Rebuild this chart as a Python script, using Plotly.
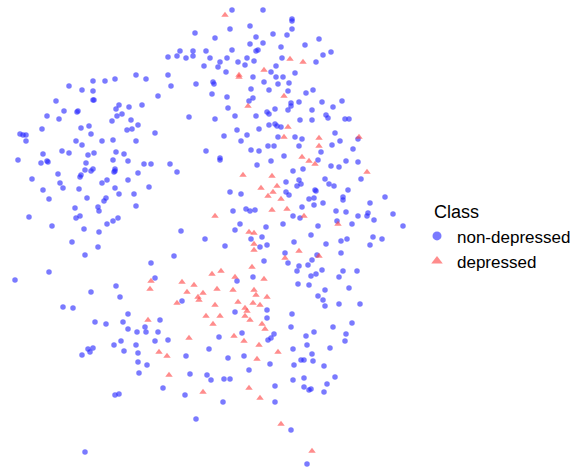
import plotly.graph_objects as go

# 2-D embedding coordinates of the samples (dim1 left->right, dim2 top->bottom)
non_depressed_dim1 = [
    136, 93, 105, 115, 69, 82, 93, 56, 93, 94, 119, 116, 129, 64, 77, 78, 47, 117, 122, 59, 112, 131, 42, 81, 89, 127,
    132, 138, 20, 23, 26, 91, 26, 76, 82, 102, 113, 136, 43, 62, 69, 88, 94, 116, 124,
    18, 41, 47, 48, 86, 113, 128, 32, 58, 81, 80, 85, 91, 93, 115, 115, 114, 138, 128, 43, 60, 63, 79, 102, 107, 115,
    119, 134, 49, 87, 106, 104, 136, 75, 98, 99, 29, 76, 80, 118, 113, 107, 52, 84, 99, 72, 98, 85, 49, 15, 116, 91,
    120, 63, 73, 128,
    95, 106, 123, 128, 137, 88, 93, 90, 82, 114, 121, 136, 124, 138, 138, 139, 115, 119, 85,
    232, 263, 250, 230, 195, 215, 256, 273, 250, 263, 180, 193, 206, 232, 256, 258, 168, 177, 186, 193, 210, 220, 227,
    238, 247, 254, 245, 204, 218, 226, 276, 271, 253, 276, 146, 168, 213, 214, 196, 264, 278, 171, 251, 269, 212, 158,
    227, 253, 249, 142, 228, 275, 189, 215, 235, 256, 267, 269, 269, 275, 277, 155, 237, 259, 224, 247, 278, 241, 268,
    274, 206, 251, 259, 220,
    292, 292, 292, 287, 281, 305, 319, 323, 331, 282, 316, 295, 283, 289, 288, 306, 313, 291, 291, 299, 322, 342, 288,
    312, 333, 326, 328, 300, 312, 345, 349, 281, 335, 295, 302, 358, 299, 332, 340, 353, 321, 284,
    144, 151, 170, 220, 177, 257, 271, 149, 230, 241, 233, 246, 250, 255, 240, 235, 266, 181, 251, 262, 205, 260, 267,
    225, 174, 264, 151, 155, 253, 237, 182, 235, 267, 267,
    318, 346, 358, 331, 339, 293, 303, 325, 361, 286, 299, 301, 297, 329, 334, 315, 316, 348, 286, 289, 309, 314, 343,
    343, 385, 323, 314, 370, 302, 336, 346, 368, 393, 293, 300, 358, 367, 374, 337, 283, 318, 352, 403, 311, 373, 382,
    294, 326, 341, 347, 370, 285, 317, 341, 288, 312, 299, 308, 297, 322, 343, 357, 311, 316, 339, 298, 309, 325, 349,
    318, 323, 325, 339, 360, 292,
    160, 145, 146, 158, 155, 168, 219, 242, 274, 271, 268, 209, 186, 228, 244, 270, 147, 249, 190, 207, 211, 224, 230,
    163, 275, 185, 223, 275, 196,
    291, 314, 306, 333, 352, 346, 345, 293, 307, 330, 312, 301, 304, 313, 294, 324, 293, 304, 335, 304, 309, 311, 327,
    324, 291, 307,
]
non_depressed_dim2 = [
    75, 81, 81, 79, 86, 90, 91, 101, 100, 100, 105, 109, 107, 111, 112, 111, 116, 116, 114, 119, 121, 120, 129, 128,
    126, 130, 129, 125, 134, 135, 135, 134, 141, 141, 145, 141, 140, 141, 154, 151, 153, 155, 153, 152, 154,
    160, 163, 161, 162, 163, 160, 161, 179, 174, 175, 177, 170, 171, 169, 169, 171, 172, 173, 180, 190, 183, 188, 189,
    183, 180, 188, 194, 194, 199, 198, 198, 201, 206, 208, 207, 211, 217, 218, 216, 218, 221, 224, 226, 229, 232, 242,
    247, 255, 272, 280, 286, 292, 297, 307, 308, 314,
    322, 324, 322, 329, 332, 349, 348, 352, 355, 345, 341, 345, 351, 353, 362, 373, 395, 394, 452,
    10, 10, 26, 29, 33, 38, 37, 34, 44, 43, 51, 51, 51, 50, 51, 50, 57, 56, 58, 56, 58, 62, 58, 62, 58, 61, 65, 66, 67,
    72, 66, 72, 77, 77, 79, 75, 82, 84, 84, 82, 84, 86, 89, 90, 94, 96, 97, 98, 101, 105, 108, 109, 117, 119, 116, 116,
    112, 114, 125, 124, 126, 133, 130, 129, 136, 135, 137, 141, 146, 146, 151, 150, 151, 158,
    19, 21, 29, 35, 47, 45, 39, 55, 52, 58, 62, 73, 77, 83, 91, 93, 90, 103, 106, 102, 102, 101, 110, 110, 107, 115,
    118, 120, 120, 119, 119, 127, 133, 137, 139, 139, 146, 145, 141, 149, 152, 156,
    164, 164, 164, 160, 172, 165, 161, 187, 192, 194, 211, 209, 211, 210, 224, 230, 227, 231, 239, 237, 239, 247, 245,
    246, 256, 261, 263, 278, 277, 281, 301, 312, 310, 318,
    160, 161, 162, 166, 167, 171, 169, 179, 179, 182, 180, 184, 186, 184, 186, 190, 191, 190, 192, 195, 199, 198, 197,
    200, 197, 203, 205, 203, 207, 211, 212, 213, 214, 216, 218, 216, 216, 220, 221, 224, 226, 224, 226, 235, 237, 239,
    242, 244, 241, 239, 245, 253, 255, 253, 263, 260, 266, 265, 271, 270, 271, 271, 276, 274, 277, 284, 285, 290, 288,
    296, 300, 306, 304, 304, 314,
    320, 327, 332, 332, 341, 340, 337, 333, 334, 338, 340, 349, 356, 358, 356, 364, 365, 370, 374, 375, 380, 379, 379,
    388, 386, 395, 402, 402, 419,
    327, 332, 336, 327, 323, 334, 341, 349, 345, 348, 354, 360, 360, 361, 365, 366, 380, 378, 377, 387, 390, 389, 384,
    392, 430, 464,
]

depressed_dim1 = [
    225, 239, 239, 264, 248,
    290, 303, 284, 288, 284, 319, 359, 319, 302,
    243, 272, 261, 277, 273, 268, 272, 215, 249, 254, 254, 254, 252, 221, 212, 264, 235, 151, 150, 182, 194, 217, 233,
    187, 203, 254, 256, 267, 198, 199, 177, 238, 253, 260, 215, 245, 247, 206, 220, 245,
    309, 315, 367, 281, 287, 304, 338, 299, 285, 319,
    148, 250, 213, 262, 265, 189, 234, 244, 259, 159, 167, 278, 257, 169, 249, 203, 260,
    281, 312,
]
depressed_dim2 = [
    15, 75, 77, 70, 106,
    59, 62, 96, 127, 137, 138, 137, 146, 157,
    175, 176, 188, 186, 192, 196, 210, 216, 232, 233, 244, 250, 267, 271, 274, 279, 277, 281, 289, 282, 285, 289, 290,
    292, 293, 290, 295, 297, 297, 300, 303, 302, 303, 305, 305, 308, 311, 316, 316, 316,
    161, 164, 172, 199, 209, 216, 224, 251, 258, 256,
    320, 320, 324, 324, 329, 338, 336, 341, 345, 352, 356, 352, 359, 375, 388, 392, 398,
    424, 451,
]

classes = ["non-depressed", "depressed"]
BLUE = "rgba(40,40,255,0.62)"
RED = "rgba(255,70,70,0.62)"

fig = go.Figure()

fig.add_trace(go.Scatter(
    x=non_depressed_dim1, y=non_depressed_dim2, mode="markers", name=classes[0],
    marker=dict(symbol="circle", size=5.5, color=BLUE, line=dict(width=0)),
    showlegend=False, legendgroup=classes[0],
))
fig.add_trace(go.Scatter(
    x=depressed_dim1, y=depressed_dim2, mode="markers", name=classes[1],
    marker=dict(symbol="triangle-up", size=6.5, color=RED, line=dict(width=0)),
    showlegend=False, legendgroup=classes[1],
))

# legend keys with slightly larger symbols
fig.add_trace(go.Scatter(
    x=[None], y=[None], mode="markers", name=classes[0], legendgroup=classes[0],
    marker=dict(symbol="circle", size=9, color=BLUE, line=dict(width=0)),
))
fig.add_trace(go.Scatter(
    x=[None], y=[None], mode="markers", name=classes[1], legendgroup=classes[1],
    marker=dict(symbol="triangle-up", size=10, color=RED, line=dict(width=0)),
))

hidden = dict(visible=False, showgrid=False, zeroline=False)
fig.update_layout(
    width=582, height=472,
    margin=dict(l=0, r=0, t=0, b=0),
    paper_bgcolor="white", plot_bgcolor="white",
    xaxis=dict(range=[0, 582], **hidden),
    yaxis=dict(range=[472, 0], **hidden),
    font=dict(family="Liberation Sans, Arial, sans-serif", size=17, color="black"),
    legend=dict(
        title=dict(text="\u00a0\u00a0\u00a0Class", font=dict(size=18)),
        font=dict(size=17),
        x=0.7165, y=0.587, xanchor="left", yanchor="top",
        bgcolor="rgba(0,0,0,0)", itemwidth=30, tracegroupgap=0,
    ),
)

fig.write_html("out.html")
